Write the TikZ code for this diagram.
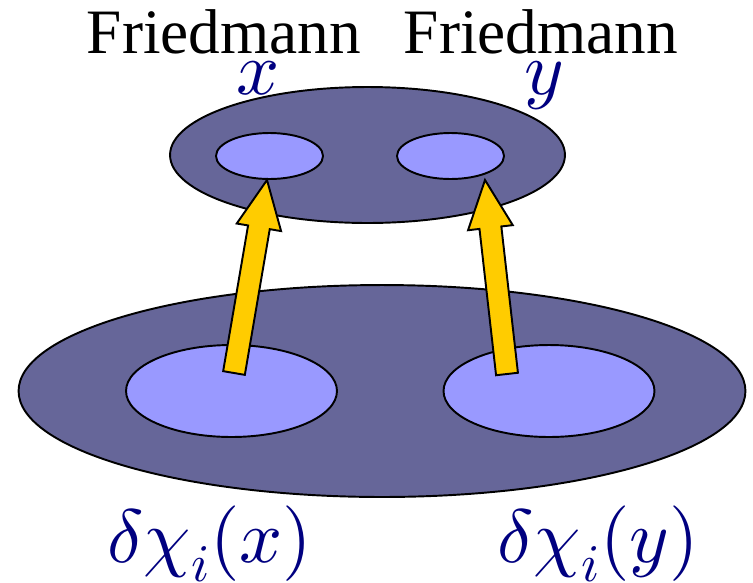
\documentclass[tikz,border=0pt]{standalone}
\usepackage[no-math]{fontspec}
\setmainfont{Liberation Serif}
\DeclareFontShape{OML}{cmm}{m}{it}{<->cmmi10}{}
\DeclareFontShape{OT1}{cmr}{m}{n}{<->cmr10}{}
\usetikzlibrary{shapes.geometric,calc}

\definecolor{fieldblue}{HTML}{666699}
\definecolor{patchblue}{HTML}{9999FF}
\definecolor{fluxgold}{HTML}{FFCC00}
\definecolor{labelnavy}{HTML}{000080}

% block arrow from tail coordinate #1 to tip coordinate #2
\newcommand{\blockarrow}[2]{%
  \coordinate (#1hb) at ($(#2)!0.96cm!(#1)$);
  \draw[flux] ($(#1)!0.22cm!90:(#2)$) -- ($(#1hb)!0.22cm!90:(#2)$)
    -- ($(#1hb)!0.45cm!90:(#2)$) -- (#2) -- ($(#1hb)!0.45cm!-90:(#2)$)
    -- ($(#1hb)!0.22cm!-90:(#2)$) -- ($(#1)!0.22cm!-90:(#2)$) -- cycle;
}

\begin{document}
\begin{tikzpicture}[x=0.02cm, y=-0.02cm,
  region/.style={ellipse, draw, line width=1.1pt, fill=fieldblue, inner sep=0pt},
  patch/.style={ellipse, draw, line width=1.1pt, fill=patchblue, inner sep=0pt},
  flux/.style={draw, line width=1.1pt, fill=fluxgold},
  friedlabel/.style={anchor=base, inner sep=0pt, font=\fontsize{36}{44}\selectfont},
  pointlabel/.style={anchor=base, inner sep=0pt, text=labelnavy, font=\fontsize{43}{52}\selectfont}]
  \useasboundingbox (0,0) rectangle (753,582);

  % early universe and the two Friedmann patches
  \node[region, minimum width=14.54cm, minimum height=4.24cm] (early) at (382,391) {};
  \node[region, minimum width=7.9cm, minimum height=2.72cm] (late) at (367.5,155) {};
  \node[patch, minimum width=4.22cm, minimum height=1.84cm] (seedx) at (231.5,391) {};
  \node[patch, minimum width=4.22cm, minimum height=1.84cm] (seedy) at (549,391) {};
  \node[patch, minimum width=2.14cm, minimum height=0.92cm] (fx) at (269.5,156) {};
  \node[patch, minimum width=2.14cm, minimum height=0.92cm] (fy) at (450.5,156) {};

  % arrows
  \coordinate (tailx) at (234,373);
  \coordinate (tipx) at (267,180);
  \coordinate (taily) at (507,374);
  \coordinate (tipy) at (485,180);
  \blockarrow{tailx}{tipx}
  \blockarrow{taily}{tipy}

  % labels
  \node[friedlabel] (friedx) at (224,53) {Friedmann};
  \node[friedlabel] (friedy) at (541,53) {Friedmann};
  \node[pointlabel] (labx) at (258,94) {$x$};
  \node[pointlabel] (laby) at (544,94) {$y$};
  \node[pointlabel] (deltax) at (210,562) {$\delta\chi_i(x)$};
  \node[pointlabel] (deltay) at (598,562) {$\delta\chi_i(y)$};
\end{tikzpicture}
\end{document}
